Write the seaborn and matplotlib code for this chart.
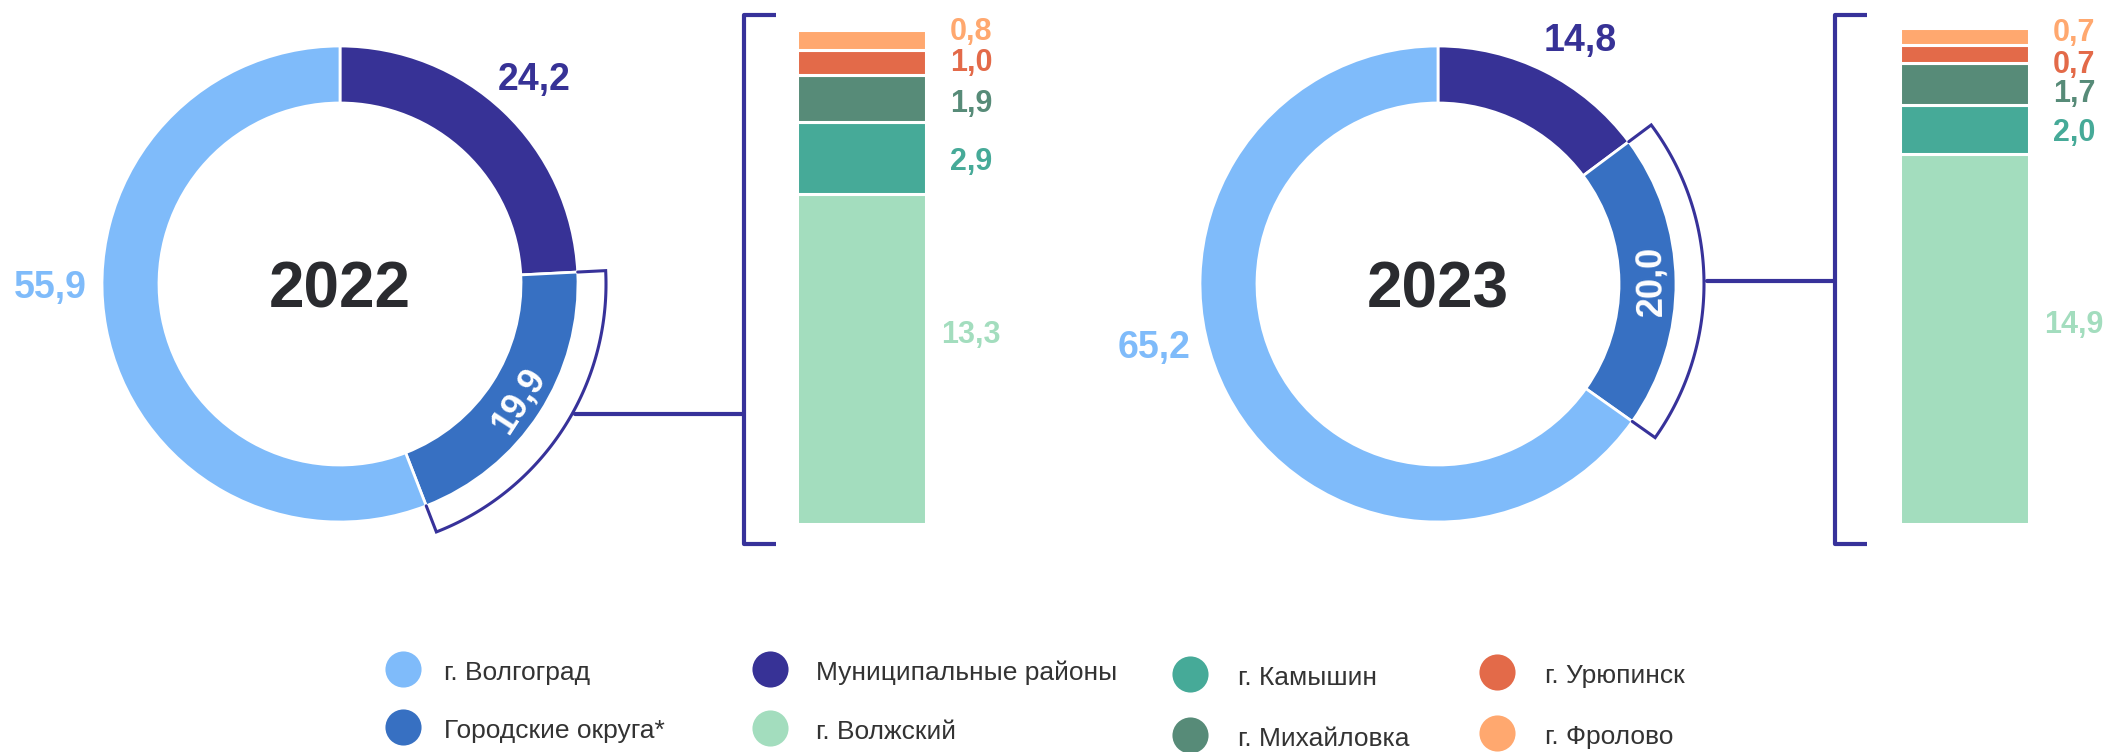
import numpy as np
import matplotlib
matplotlib.use("Agg")
import matplotlib.pyplot as plt
import seaborn as sns

sns.set_theme(style="white")
plt.rcParams["font.family"] = ["Liberation Sans", "DejaVu Sans"]

W, H = 2110, 752

# ---------------------------------------------------------------
# Data (shares, %)
# ---------------------------------------------------------------
years = ["2022", "2023"]
donut_labels = ["Муниципальные районы", "Городские округа*", "г. Волгоград"]
donut_2022 = [24.2, 19.9, 55.9]
donut_2023 = [14.8, 20.0, 65.2]
city_labels = ["г. Волжский", "г. Камышин", "г. Михайловка", "г. Урюпинск", "г. Фролово"]
cities_2022 = [13.3, 2.9, 1.9, 1.0, 0.8]
cities_2023 = [14.9, 2.0, 1.7, 0.7, 0.7]

donut_colors = ["#373296", "#3770C2", "#7FBBFA"]
city_colors = ["#A3DDBE", "#46AA98", "#578B78", "#E36A49", "#FFA86F"]
LINE = "#37329A"
DARK = "#2A2B2F"

# ---------------------------------------------------------------
# Layout (pixels, image coords: y grows downwards)
# ---------------------------------------------------------------
centers = [(340, 284), (1438, 284)]
R_OUT, RING = 238, 57
R_BR = R_OUT + 28
small_label_angle = [47, 60]
big_label_angle = [180, -168]
connector_y = [414, 281]
bar_x0 = [797, 1900]
bar_w, bar_bottom, px_per_unit = 129, 524, 24.8
bracket_x = [744, 1835]
label_nudge = [[28, 0, -2, 3, 12], [18, 0, -7, -7, 7]]

legend_items = [
    ("г. Волгоград", donut_colors[2], 403, 669, 444),
    ("Городские округа*", donut_colors[1], 403, 727, 444),
    ("Муниципальные районы", donut_colors[0], 770, 669, 816),
    ("г. Волжский", city_colors[0], 770, 728, 816),
    ("г. Камышин", city_colors[1], 1190, 674, 1238),
    ("г. Михайловка", city_colors[2], 1190, 735, 1238),
    ("г. Урюпинск", city_colors[3], 1497, 672, 1545),
    ("г. Фролово", city_colors[4], 1497, 733, 1545),
]


def Y(y):
    return H - y


def fmt(v):
    return f"{v:.1f}".replace(".", ",")


fig = plt.figure(figsize=(W / 100, H / 100), dpi=100)
ax = fig.add_axes([0, 0, 1, 1])

for i, (year, vals, cities) in enumerate(zip(years, [donut_2022, donut_2023],
                                             [cities_2022, cities_2023])):
    cx, cy = centers[i]
    ax.pie(vals, colors=donut_colors, startangle=90, counterclock=False,
           center=(cx, Y(cy)), radius=R_OUT,
           wedgeprops=dict(width=RING, edgecolor="white", linewidth=2))

    bounds = 90 - 360 * np.concatenate([[0], np.cumsum(vals)]) / np.sum(vals)
    mids = (bounds[:-1] + bounds[1:]) / 2

    # year in the middle
    ax.text(cx, Y(cy + 23), year, fontsize=46, fontweight="bold", color=DARK,
            ha="center", va="baseline")

    # outer labels
    a = np.radians(small_label_angle[i])
    ax.text(cx + 285 * np.cos(a), Y(cy) + 285 * np.sin(a), fmt(vals[0]),
            fontsize=27, fontweight="bold", color=donut_colors[0],
            ha="center", va="center_baseline")
    a = np.radians(big_label_angle[i])
    ax.text(cx + 290 * np.cos(a), Y(cy) + 290 * np.sin(a), fmt(vals[2]),
            fontsize=27, fontweight="bold", color=donut_colors[2],
            ha="center", va="center_baseline")
    # inner label on the city-districts segment
    a = np.radians(mids[1])
    r_mid = R_OUT - RING / 2
    ax.text(cx + r_mid * np.cos(a), Y(cy) + r_mid * np.sin(a), fmt(vals[1]),
            fontsize=26, fontweight="bold", color="white", ha="center",
            va="center_baseline", rotation=mids[1] + 90, rotation_mode="anchor")

    # arc bracket around the city-districts segment
    t = np.radians(np.linspace(bounds[1], bounds[2], 120))
    t0, t1 = t[0], t[-1]
    xs = np.r_[cx + R_OUT * np.cos(t0), cx + R_BR * np.cos(t), cx + R_OUT * np.cos(t1)]
    ys = np.r_[Y(cy) + R_OUT * np.sin(t0), Y(cy) + R_BR * np.sin(t), Y(cy) + R_OUT * np.sin(t1)]
    ax.plot(xs, ys, color=LINE, lw=2.2, solid_joinstyle="miter")

    # connector + square bracket
    dy = cy - connector_y[i]
    px = cx + np.sqrt(R_BR ** 2 - dy ** 2)
    ax.plot([px + 3, bracket_x[i]], [Y(connector_y[i])] * 2, color=LINE, lw=3)
    bx = bracket_x[i]
    ax.plot([bx + 32, bx, bx, bx + 32], [Y(15), Y(15), Y(544), Y(544)],
            color=LINE, lw=3, solid_joinstyle="round", solid_capstyle="butt")

    # stacked bar of the city districts
    bax = fig.add_axes([bar_x0[i] / W, (H - bar_bottom) / H, bar_w / W,
                        20 * px_per_unit / H])
    bottoms = np.concatenate([[0], np.cumsum(cities)[:-1]])
    for v, b, c in zip(cities, bottoms, city_colors):
        sns.barplot(x=[0], y=[v], bottom=b, color=c, width=1, saturation=1,
                    errorbar=None, edgecolor="white", linewidth=2.2, ax=bax)
    bax.set_xlim(-0.5, 0.5)
    bax.set_ylim(0, 20)
    bax.axis("off")
    lx = 0.5 + 45 / bar_w
    for v, b, c, n in zip(cities, bottoms, city_colors, label_nudge[i]):
        bax.text(lx, b + v / 2 + n / px_per_unit, fmt(v), fontsize=22,
                 fontweight="bold", color=c, ha="center", va="center_baseline",
                 clip_on=False)

# legend drawn by hand to keep the column positions
for name, c, mx, my, tx in legend_items:
    ax.scatter([mx], [Y(my)], s=26 ** 2, color=c, linewidths=0)
    ax.text(tx, Y(my + 4), name, fontsize=19, color="#333333", ha="left", va="center")

ax.set_xlim(0, W)
ax.set_ylim(0, H)
ax.axis("off")

fig.savefig("out.png", dpi=100)
